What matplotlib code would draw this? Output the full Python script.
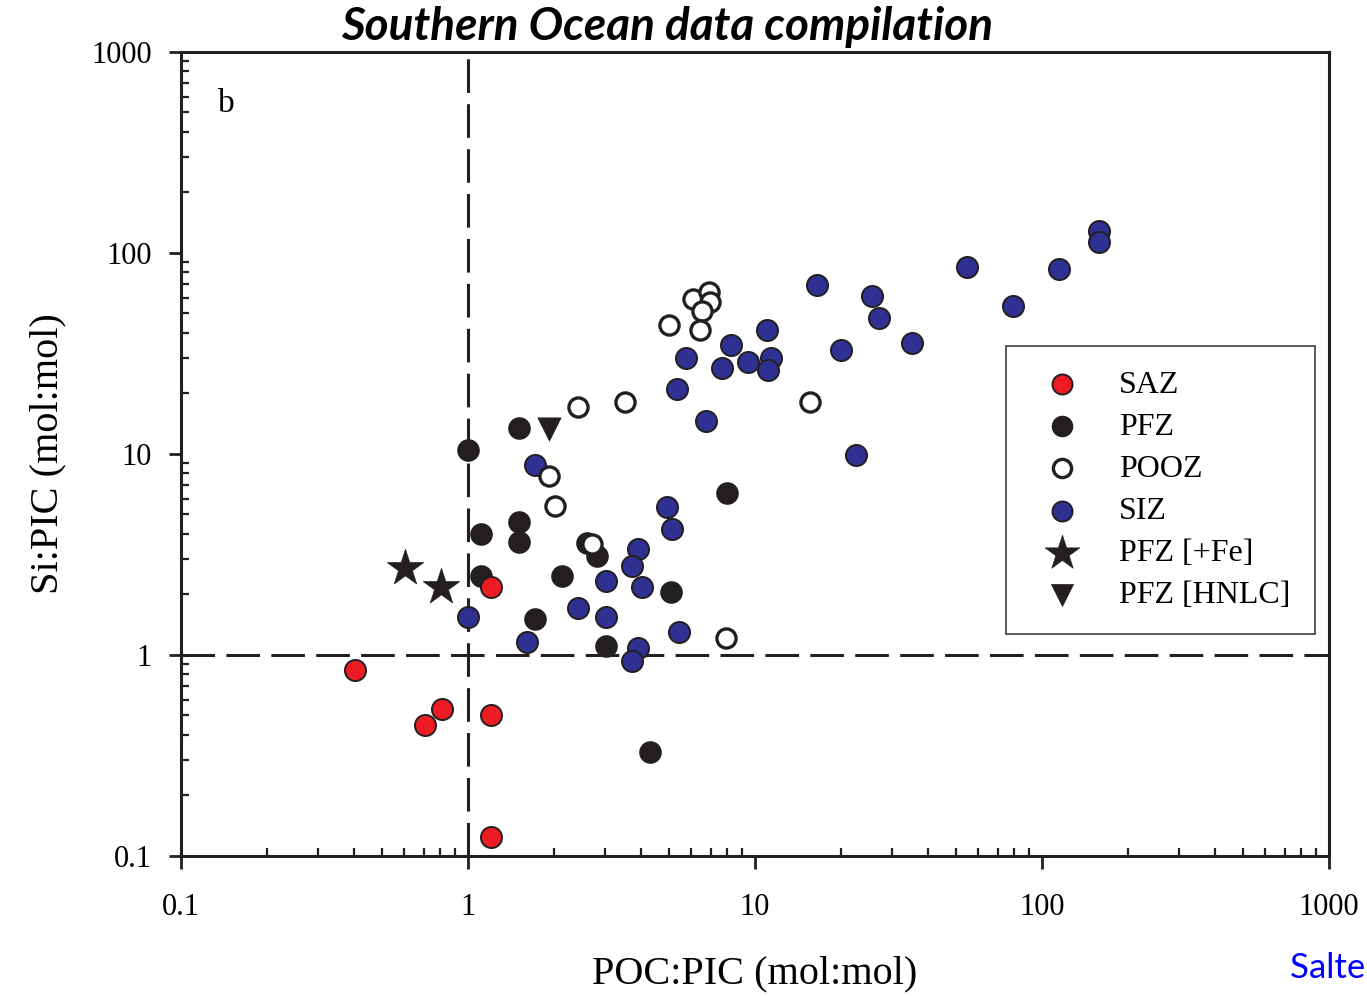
import matplotlib
matplotlib.use('Agg')
from matplotlib import pyplot as plt
from matplotlib import ticker

# POC:PIC (x) and Si:PIC (y) ratios per zone
saz_x = [0.405, 0.71, 0.81, 1.2, 1.2, 1.2]
saz_y = [0.84, 0.45, 0.54, 0.50, 2.18, 0.124]

pfz_x = [1.5, 1.0, 1.11, 1.5, 1.5, 1.11, 2.12, 2.81, 2.6, 8.0, 5.1, 1.71, 3.02, 4.3]
pfz_y = [13.5, 10.5, 4.0, 4.6, 3.65, 2.47, 2.47, 3.1, 3.6, 6.4, 2.06, 1.51, 1.11, 0.33]

pooz_x = [2.41, 3.52, 1.91, 2.01, 2.70, 7.9, 5.0, 6.06, 6.89, 6.95, 6.52, 6.41, 15.6]
pooz_y = [17.1, 18.1, 7.8, 5.5, 3.57, 1.21, 43.8, 59, 64, 57, 51.5, 41.4, 18.1]

siz_x = [16.4, 25.6, 27.1, 20.0, 11.05, 8.22, 5.73, 7.65, 9.49, 11.4, 11.1, 5.33,
         6.73, 22.5, 1.71, 4.92, 5.12, 3.90, 3.72, 3.02, 4.03, 2.41, 3.02, 1.0,
         1.60, 5.42, 3.90, 3.72, 158, 158, 115, 79.3, 54.8, 35.3]
siz_y = [69.3, 61, 47.5, 32.9, 41.4, 34.9, 30.0, 26.8, 28.7, 30.0, 26.2, 21.1,
         14.6, 9.9, 8.8, 5.45, 4.24, 3.37, 2.77, 2.33, 2.18, 1.71, 1.55, 1.55,
         1.16, 1.30, 1.08, 0.93, 129, 113, 83.3, 54.5, 85.2, 35.7]

fe_x = [0.604, 0.806]
fe_y = [2.71, 2.18]

hnlc_x = [1.91]
hnlc_y = [13.3]

red = '#ED1C24'
blue = '#2E3192'
black = '#231F20'
serif = 'Liberation Serif'

fig = plt.figure(figsize=(13.67, 9.96), dpi=100)
ax = fig.add_axes([0.1324, 0.1406, 0.8398, 0.8072])

dash = (11, 3.7)
ax.axvline(1, color=black, lw=2.2, dashes=dash, zorder=1)
ax.axhline(1, color=black, lw=2.2, dashes=dash, zorder=1)

ax.scatter(pfz_x, pfz_y, s=230, c=black, edgecolors=black, linewidths=1.1, label='PFZ', zorder=3)
ax.scatter(siz_x, siz_y, s=230, c=blue, edgecolors=black, linewidths=1.4, label='SIZ', zorder=3)
ax.scatter(saz_x, saz_y, s=230, c=red, edgecolors=black, linewidths=1.4, label='SAZ', zorder=3)
ax.scatter(pooz_x, pooz_y, s=190, c='white', edgecolors=black, linewidths=2.4, label='POOZ', zorder=3)
ax.scatter(fe_x, fe_y, s=760, marker='*', c=black, edgecolors=black, linewidths=0.5, label='PFZ [+Fe]', zorder=3)
ax.scatter(hnlc_x, hnlc_y, s=280, marker='v', c=black, edgecolors=black, linewidths=0.5, label='PFZ [HNLC]', zorder=3)

ax.set_xscale('log')
ax.set_yscale('log')
ax.set_xlim(0.1, 1000)
ax.set_ylim(0.1, 1000)

fmt = ticker.FuncFormatter(lambda v, p: '%g' % v)
ax.xaxis.set_major_formatter(fmt)
ax.yaxis.set_major_formatter(fmt)
ax.xaxis.set_minor_formatter(ticker.NullFormatter())
ax.yaxis.set_minor_formatter(ticker.NullFormatter())

for s in ax.spines.values():
    s.set_linewidth(2.2)
    s.set_color(black)

ax.tick_params(which='major', direction='out', length=9, width=2.0, color=black,
               labelsize=22, pad=18)
ax.tick_params(which='minor', direction='in', length=6, width=1.6, color=black)
ax.tick_params(axis='y', which='major', pad=12)
for lab in ax.get_xticklabels() + ax.get_yticklabels():
    lab.set_fontfamily(serif)

ax.set_xlabel('POC:PIC (mol:mol)', fontsize=29, family=serif, labelpad=24)
ax.set_ylabel('Si:PIC (mol:mol)', fontsize=29, family=serif, labelpad=18)
fig.text(667 / 1367, 1 - 27 / 996, 'Southern Ocean data compilation', fontsize=33,
         family='Lato', fontweight='bold', style='italic', ha='center', va='center')
ax.text(0.032, 0.935, 'b', transform=ax.transAxes, fontsize=24, family=serif,
        va='center', ha='left')

handles, labels = ax.get_legend_handles_labels()
order = ['SAZ', 'PFZ', 'POOZ', 'SIZ', 'PFZ [+Fe]', 'PFZ [HNLC]']
hl = dict(zip(labels, handles))
leg = ax.legend([hl[k] for k in order], order, loc='upper left',
                bbox_to_anchor=(0.719, 0.634), prop={'family': serif, 'size': 23},
                frameon=True, fancybox=False, edgecolor=black, borderpad=0.75,
                labelspacing=0.4, handletextpad=0.78, borderaxespad=0,
                markerscale=0.95, scatterpoints=1)
leg.get_frame().set_linewidth(1.3)

fig.text(1290 / 1367, 1 - 968 / 996, 'Salter et al.', color='#0000FF',
         fontsize=25, family='Lato', ha='left', va='center')

fig.savefig('out.png', dpi=100)
